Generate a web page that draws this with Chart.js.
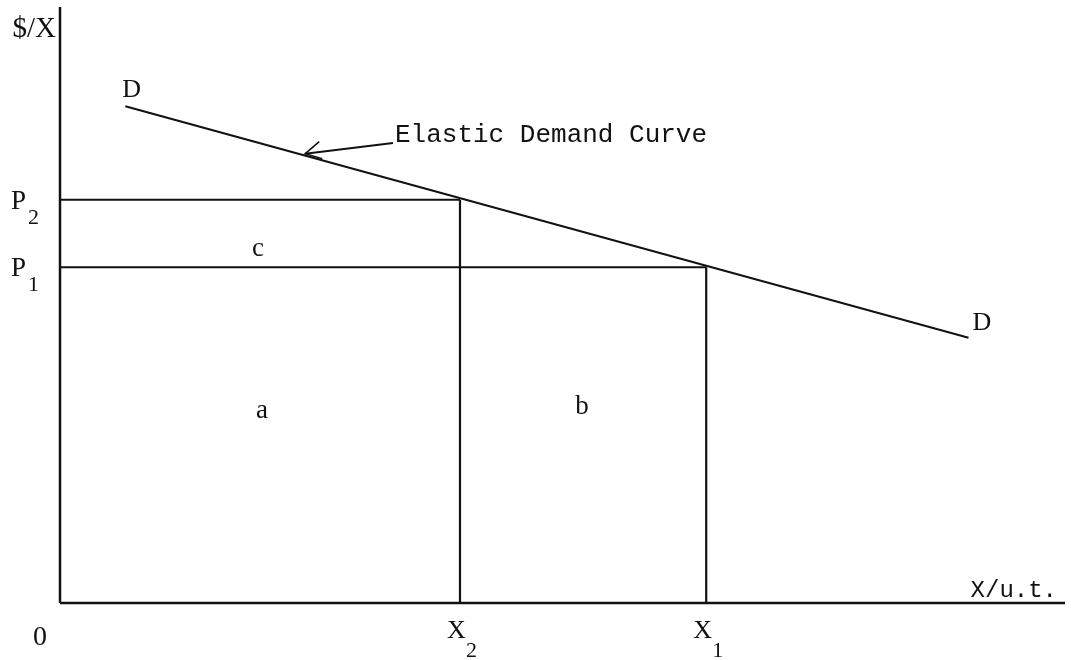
<!DOCTYPE html>
<html>
<head>
<meta charset="utf-8">
<script src="https://cdn.jsdelivr.net/npm/chart.js@4"></script>
<style>
  html, body { margin: 0; padding: 0; background: #fff; }
  #wrap { width: 1071px; height: 660px; }
</style>
</head>
<body>
<div id="wrap"><canvas id="chart"></canvas></div>
<script>
// demand curve end points (quantity, price)
const demandX = [6.5, 90.4];
const demandY = [50.0, 26.7];
// quantities and prices
const quantities = [39.8, 64.3];   // X2, X1
const prices = [40.6, 33.8];       // P2, P1
const priceLabels = ["P", "P"];
const priceSubs = ["2", "1"];
const qtyLabels = ["X", "X"];
const qtySubs = ["2", "1"];
const xMax = 100;
const yMax = 60;

const ink = "#111";

const datasets = [
  { data: [{ x: 0, y: 0 }, { x: 0, y: yMax }], borderWidth: 2.5 },
  { data: [{ x: 0, y: 0 }, { x: xMax, y: 0 }], borderWidth: 2.5 },
  { data: demandX.map((x, i) => ({ x, y: demandY[i] })), borderWidth: 2 }
];
quantities.forEach((q, i) => {
  datasets.push({ data: [{ x: 0, y: prices[i] }, { x: q, y: prices[i] }], borderWidth: 2 });
  datasets.push({ data: [{ x: q, y: 0 }, { x: q, y: prices[i] }], borderWidth: 2.2 });
});
datasets.forEach(d => {
  d.showLine = true;
  d.borderColor = ink;
  d.pointRadius = 0;
  d.clip = false;
});

const labelsPlugin = {
  id: "labels",
  afterDatasetsDraw(chart) {
    const ctx = chart.ctx;
    const xs = chart.scales.x, ys = chart.scales.y;
    const px = v => xs.getPixelForValue(v);
    const py = v => ys.getPixelForValue(v);
    ctx.save();
    ctx.fillStyle = ink;
    ctx.strokeStyle = ink;
    ctx.textBaseline = "alphabetic";
    const serif = "'Liberation Serif', serif";
    const mono = "'Liberation Mono', monospace";
    const put = (t, x, y, size, fam, align) => {
      ctx.font = size + "px " + fam;
      ctx.textAlign = align || "left";
      ctx.fillText(t, x, y);
    };
    // axis titles
    put("$/X", 56, 37, 29, serif, "right");
    put("X/u.t.", px(xMax) - 8, py(0) - 6, 24, mono, "right");
    put("0", 40, py(0) + 42, 28, serif, "center");
    // price labels
    prices.forEach((p, i) => {
      put(priceLabels[i], 11, py(p) + 9, 27, serif);
      put(priceSubs[i], 28, py(p) + 24, 22, serif);
    });
    // quantity labels
    quantities.forEach((q, i) => {
      put(qtyLabels[i], px(q) - 13, py(0) + 35, 26, serif);
      put(qtySubs[i], px(q) + 6, py(0) + 54, 22, serif);
    });
    // curve labels
    put("D", px(demandX[0]) - 3, py(demandY[0]) - 9, 26, serif);
    put("D", px(demandX[1]) + 4, py(demandY[1]) - 8, 26, serif);
    // area labels
    put("c", px(quantities[0] / 2) - 2, py((prices[0] + prices[1]) / 2) + 23, 27, serif, "center");
    put("a", px(quantities[0] / 2) + 2, py(prices[1] / 2) - 17, 27, serif, "center");
    put("b", px((quantities[0] + quantities[1]) / 2) - 1, py(prices[1] / 2) - 21, 27, serif, "center");
    // annotation with arrow
    const tx = 24.4;
    const ty = demandY[0] + (tx - demandX[0]) * (demandY[1] - demandY[0]) / (demandX[1] - demandX[0]);
    const ax = px(tx), ay = py(ty) - 2;
    const sx = 393, sy = 143;
    put("Elastic Demand Curve", sx + 2, 142, 26, mono);
    ctx.lineWidth = 2;
    ctx.beginPath();
    ctx.moveTo(sx, sy);
    ctx.lineTo(ax, ay);
    ctx.stroke();
    ctx.lineWidth = 1.6;
    ctx.beginPath();
    ctx.moveTo(ax + 14, ay - 12);
    ctx.lineTo(ax, ay);
    ctx.lineTo(ax + 17, ay + 5);
    ctx.stroke();
    ctx.restore();
  }
};

new Chart(document.getElementById("chart"), {
  type: "scatter",
  data: { datasets },
  options: {
    responsive: true,
    maintainAspectRatio: false,
    animation: false,
    layout: { padding: { left: 60, right: 6, top: 7, bottom: 57 } },
    plugins: { legend: { display: false }, tooltip: { enabled: false } },
    scales: {
      x: { type: "linear", min: 0, max: xMax, display: false },
      y: { type: "linear", min: 0, max: yMax, display: false }
    }
  },
  plugins: [labelsPlugin]
});
</script>
</body>
</html>
